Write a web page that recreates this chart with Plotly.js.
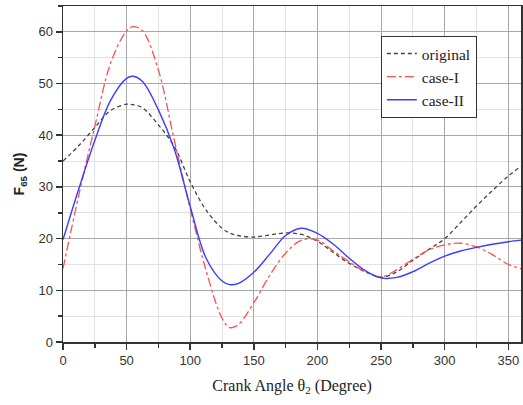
<!DOCTYPE html>
<html>
<head>
<meta charset="utf-8">
<script src="https://cdn.plot.ly/plotly-3.0.1.min.js"></script>
<style>html,body{margin:0;padding:0;background:#fff}#chart{width:523px;height:405px}</style>
</head>
<body>
<div id="chart"></div>
<script>
const crankAngle = [0,12.5,25,37.5,50,55,62.5,75,87.5,100,112.5,125,131,137.5,150,162.5,175,187.5,200,212.5,225,237.5,250,262.5,275,287.5,300,312.5,325,337.5,350,360];
const original = [35,38,41.5,44.8,46,45.9,45.3,42,37.8,31,25.5,22,21.1,20.6,20.3,20.7,21.1,20.8,19.5,17.3,15.2,13.6,12.5,13.6,15.8,17.9,20,23.1,26.3,29.3,32.1,34];
const caseI = [14.2,28.5,41.7,54,60.2,61,60.2,52.6,39,25.8,13.8,4.6,2.8,3.3,7.6,12.9,17.2,19.7,19.7,17.6,15.5,13.6,12.6,14,16,17.8,18.8,19.1,18.4,16.9,15,14.2];
const caseII = [19.8,29.7,39,46.8,51,51.4,50.4,44.9,37.3,26.2,16.2,11.8,11.1,11.3,13.5,17,20.6,22,21,18.9,16.2,13.8,12.4,12.5,13.6,15.2,16.6,17.6,18.3,18.9,19.4,19.7];
const seriesNames = ["original","case-I","case-II"];
const xTickVals = [0,50,100,150,200,250,300,350];
const yTickVals = [0,10,20,30,40,50,60];

const traces = [
  {x: crankAngle, y: original, name: seriesNames[0], mode: 'lines',
   line: {color: '#444444', width: 1.3, dash: '4px,3px', shape: 'spline', smoothing: 1}},
  {x: crankAngle, y: caseI, name: seriesNames[1], mode: 'lines',
   line: {color: '#ff5050', width: 1.3, dash: 'dashdot', shape: 'spline', smoothing: 1}},
  {x: crankAngle, y: caseII, name: seriesNames[2], mode: 'lines',
   line: {color: '#3c3cff', width: 1.4, shape: 'spline', smoothing: 1}}
];

const layout = {
  width: 523, height: 405,
  margin: {l: 63, r: 2, t: 6, b: 63},
  paper_bgcolor: '#fff', plot_bgcolor: '#fff',
  showlegend: true,
  legend: {x: 0.694, y: 0.911, xanchor: 'left', yanchor: 'top',
    bgcolor: '#fff', bordercolor: '#333', borderwidth: 1,
    font: {family: 'Liberation Serif, Times New Roman, serif', size: 15.5, color: '#222'},
    tracegroupgap: 0},
  xaxis: {
    range: [0, 360], tickvals: xTickVals, ticktext: xTickVals.map(String),
    showgrid: true, gridcolor: '#a8a8a8', gridwidth: 1,
    zeroline: false, showline: true, linecolor: '#333', linewidth: 1.5, mirror: true,
    ticks: 'outside', ticklen: 6, tickwidth: 1.5, tickcolor: '#333',
    minor: {dtick: 25, tick0: 0, showgrid: true, gridcolor: '#e2e2e2', gridwidth: 1, ticks: 'outside', ticklen: 4, tickcolor: '#333'},
    tickfont: {family: 'Liberation Sans, Arial, sans-serif', size: 13, color: '#333'},
    title: {text: 'Crank Angle θ<sub>2</sub> (Degree)', standoff: 12,
      font: {family: 'Liberation Serif, Times New Roman, serif', size: 16, color: '#222'}}
  },
  yaxis: {
    range: [0, 65], tickvals: yTickVals, ticktext: yTickVals.map(String),
    showgrid: true, gridcolor: '#a8a8a8', gridwidth: 1,
    zeroline: false, showline: true, linecolor: '#333', linewidth: 1.5, mirror: true,
    ticks: 'outside', ticklen: 6, tickwidth: 1.5, tickcolor: '#333',
    minor: {dtick: 5, tick0: 0, showgrid: true, gridcolor: '#e2e2e2', gridwidth: 1, ticks: 'outside', ticklen: 4, tickcolor: '#333'},
    tickfont: {family: 'Liberation Sans, Arial, sans-serif', size: 13, color: '#333'},
    title: {text: '<b>F<sub>65</sub> (N)</b>', standoff: 10,
      font: {family: 'Liberation Sans, Arial, sans-serif', size: 14, color: '#222'}}
  }
};

Plotly.newPlot('chart', traces, layout, {staticPlot: true, displayModeBar: false});
</script>
</body>
</html>
